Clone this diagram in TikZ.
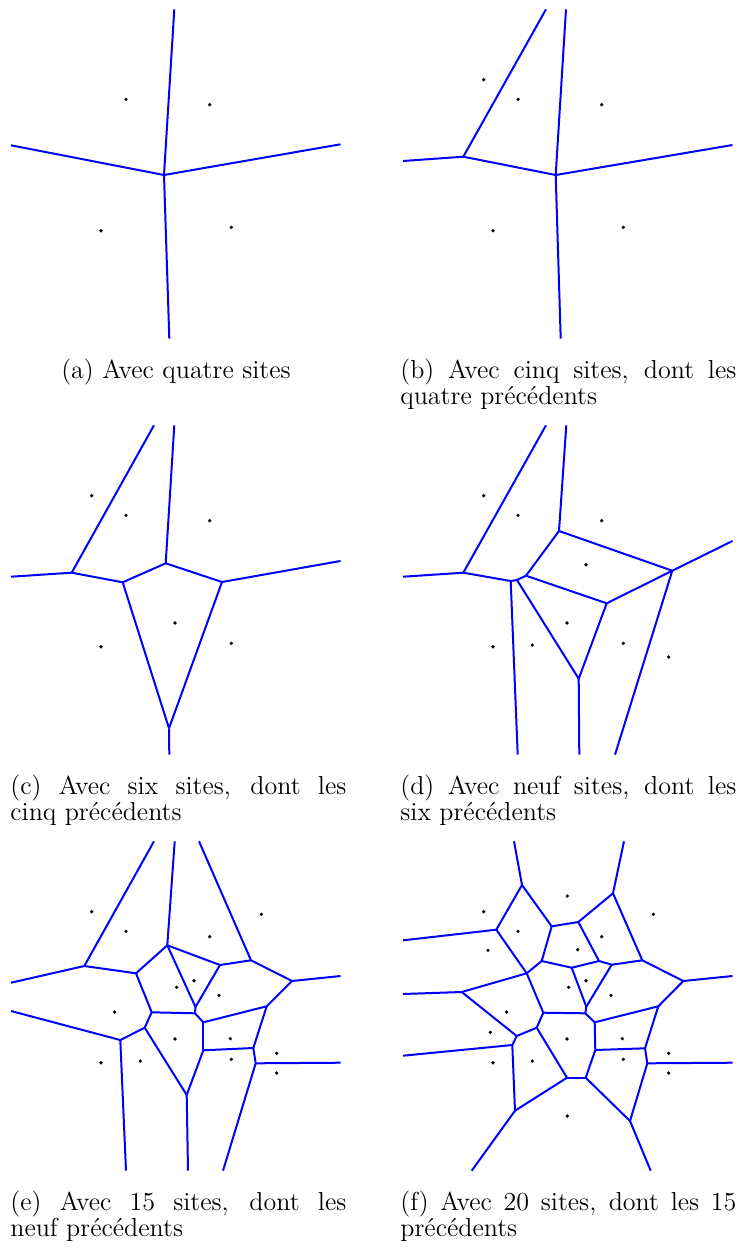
\documentclass[tikz,border=0pt]{standalone}
\usepackage{tikz}
\tikzset{
  cellule/.style={draw=blue, line width=1pt, line join=round},
  germe/.style={fill=black},
  legende/.style={inner sep=0pt, text width=168pt, align=justify, anchor=base west,
    font=\fontsize{13}{12}\selectfont},
}
\newcommand\germes[1]{%
  \foreach \n/\x/\y in {1/175.3/64, 2/91.7/79.7, 3/261.3/82.3, 4/126/99.3, 5/209.7/104.7,
      6/96/118.3, 7/185.7/117.7, 8/194/148.7, 9/176.7/155.3, 10/219/163.3,
      11/114.7/180, 12/98.3/200.3, 13/175/207, 14/230.3/206.7, 15/101/230.7,
      16/140.3/229, 17/231.3/227.3, 18/276.7/221.3, 19/276.7/241, 20/175.3/284}
    \coordinate (s\n) at (\x,\y);
  \foreach \i in {#1} \fill[germe] (s\i) circle[radius=0.9pt];}

\begin{document}
\begin{tikzpicture}[x=0.5pt, y=-0.5pt]
  \useasboundingbox (0,0) rectangle (737,1248);

  \begin{scope}
    \coordinate (a0) at (164,175);
    \coordinate (aN) at (174.3,9.3);
    \coordinate (aW) at (11,145.3);
    \coordinate (aE) at (340.5,144.3);
    \coordinate (aS) at (169.3,338.7);
    \foreach \u/\v in {a0/aN, a0/aS, a0/aW, a0/aE}
      \draw[cellule] (\u) -- (\v);
    \germes{4,5,15,17}
  \end{scope}

  \begin{scope}[shift={(392,0)}]
    \coordinate (b1) at (163.7,175);
    \coordinate (b2) at (71.3,156.7);
    \coordinate (bN1) at (154,9.3);
    \coordinate (bN2) at (174,9.3);
    \coordinate (bW) at (11,161);
    \coordinate (bE) at (340.5,145);
    \coordinate (bS) at (168.7,338.7);
    \foreach \u/\v in {b2/bN1, b2/bW, b2/b1, b1/bN2, b1/bE, b1/bS}
      \draw[cellule] (\u) -- (\v);
    \germes{2,4,5,15,17}
  \end{scope}

  \begin{scope}[shift={(0,416)}]
    \coordinate (c1) at (71.7,156.7);
    \coordinate (c2) at (122.7,166.3);
    \coordinate (c3) at (165.7,147.3);
    \coordinate (c4) at (222,166);
    \coordinate (c5) at (169,312.3);
    \coordinate (cW) at (11,160.7);
    \coordinate (cN1) at (154,9.3);
    \coordinate (cN2) at (174.3,9.3);
    \coordinate (cE) at (340.5,145);
    \coordinate (cS) at (169.3,338.7);
    \foreach \u/\v in {c1/cW, c1/cN1, c1/c2, c2/c3, c3/cN2, c3/c4, c4/cE,
        c2/c5, c4/c5, c5/cS}
      \draw[cellule] (\u) -- (\v);
    \germes{2,4,5,13,15,17}
  \end{scope}

  \begin{scope}[shift={(392,416)}]
    \coordinate (d1) at (71.3,156.7);
    \coordinate (d2) at (118.7,165);
    \coordinate (d3) at (125,164);
    \coordinate (d4) at (134,159.7);
    \coordinate (d5) at (167,115);
    \coordinate (d6) at (280.3,154.7);
    \coordinate (d7) at (214.7,187.3);
    \coordinate (d8) at (186.7,262.7);
    \coordinate (dW) at (11,160.7);
    \coordinate (dN1) at (154,9.3);
    \coordinate (dN2) at (174.3,9.3);
    \coordinate (dE) at (340.5,125);
    \coordinate (dS1) at (125.7,338.7);
    \coordinate (dS2) at (187.3,338.7);
    \coordinate (dS3) at (223,338.7);
    \foreach \u/\v in {d1/dW, d1/dN1, d1/d2, d2/d3, d3/d4, d2/dS1, d4/d5, d5/dN2,
        d5/d6, d6/dE, d4/d7, d7/d6, d6/dS3, d3/d8, d7/d8, d8/dS2}
      \draw[cellule] (\u) -- (\v);
    \germes{2,4,5,8,13,15,16,17,19}
  \end{scope}

  \begin{scope}[shift={(0,832)}]
    \coordinate (e1) at (84.3,134);
    \coordinate (e2) at (136,141.3);
    \coordinate (e3) at (167.3,113.3);
    \coordinate (e4) at (220,133);
    \coordinate (e5) at (251,128.3);
    \coordinate (e6) at (292,149);
    \coordinate (e7) at (266.7,174.3);
    \coordinate (e8) at (203.3,190.3);
    \coordinate (e9) at (195,181.3);
    \coordinate (e10) at (195.5,175);
    \coordinate (e11) at (151.7,180.3);
    \coordinate (e12) at (144.7,195.7);
    \coordinate (e13) at (120.3,208);
    \coordinate (e14) at (203.3,218.3);
    \coordinate (e15) at (253.3,216);
    \coordinate (e16) at (255.7,231.3);
    \coordinate (e17) at (186.7,263);
    \coordinate (eN1) at (154,9.3);
    \coordinate (eN2) at (174.7,9.3);
    \coordinate (eN3) at (199,9.3);
    \coordinate (eW1) at (11,150.7);
    \coordinate (eW2) at (11,179);
    \coordinate (eE1) at (340.5,144);
    \coordinate (eE2) at (340.5,230.7);
    \coordinate (eS1) at (126,338.7);
    \coordinate (eS2) at (188,338.7);
    \coordinate (eS3) at (223,338.7);
    \foreach \u/\v in {e1/eN1, e1/eW1, e1/e2, e2/e3, e3/eN2, e3/e4, e3/e10, e4/e5,
        e4/e10, e5/eN3, e5/e6, e6/eE1, e6/e7, e7/e8, e8/e9, e9/e10, e9/e11, e2/e11,
        e11/e12, e12/e13, e13/eW2, e13/eS1, e12/e17, e17/eS2, e17/e14, e14/e8,
        e14/e15, e15/e7, e15/e16, e16/eE2, e16/eS3}
      \draw[cellule] (\u) -- (\v);
    \germes{2,3,4,5,8,9,10,11,13,14,15,16,17,18,19}
  \end{scope}

  \begin{scope}[shift={(392,832)}]
    \coordinate (f1) at (130,53);
    \coordinate (f2) at (221,61.3);
    \coordinate (f3) at (104.3,97.7);
    \coordinate (f4) at (159.7,94.3);
    \coordinate (f5) at (186.3,90);
    \coordinate (f6) at (149.7,129);
    \coordinate (f7) at (179.7,135.7);
    \coordinate (f8) at (207,129);
    \coordinate (f9) at (219.7,132.7);
    \coordinate (f10) at (250.3,128.3);
    \coordinate (f11) at (291.3,149);
    \coordinate (f12) at (134.7,141.3);
    \coordinate (f13) at (69.7,160);
    \coordinate (f14) at (266.3,174.3);
    \coordinate (f15) at (194.3,174.7);
    \coordinate (f16) at (193.3,181.3);
    \coordinate (f17) at (151.3,180.7);
    \coordinate (f18) at (202.7,190.3);
    \coordinate (f19) at (144.7,195.7);
    \coordinate (f20) at (124.7,204);
    \coordinate (f21) at (120.3,213);
    \coordinate (f22) at (203.3,218);
    \coordinate (f23) at (253,216.3);
    \coordinate (f24) at (255.3,231.3);
    \coordinate (f25) at (175,245.7);
    \coordinate (f26) at (193.7,245.7);
    \coordinate (f27) at (123,278.7);
    \coordinate (f28) at (238,289);
    \coordinate (fN1) at (122,9.3);
    \coordinate (fN2) at (232,9.3);
    \coordinate (fW1) at (11,108.3);
    \coordinate (fW2) at (11,162);
    \coordinate (fW3) at (11,223.7);
    \coordinate (fE1) at (340.5,144);
    \coordinate (fE2) at (340.5,230.7);
    \coordinate (fS1) at (79.7,338.7);
    \coordinate (fS2) at (258.7,338.7);
    \foreach \u/\v in {f1/fN1, f1/f3, f1/f4, f3/fW1, f3/f12, f4/f5, f4/f6, f5/f2,
        f5/f8, f2/fN2, f2/f10, f6/f7, f7/f8, f8/f9, f9/f10, f6/f12, f12/f13,
        f13/fW2, f13/f20, f12/f17, f7/f15, f9/f15, f15/f16, f17/f16, f16/f18,
        f10/f11, f11/fE1, f11/f14, f14/f18, f18/f22, f22/f23, f23/f14, f23/f24,
        f24/fE2, f24/f28, f28/fS2, f28/f26, f26/f22, f26/f25, f25/f19, f25/f27,
        f27/fS1, f27/f21, f21/f20, f21/fW3, f20/f19, f19/f17}
      \draw[cellule] (\u) -- (\v);
    \germes{1,2,3,4,5,6,7,8,9,10,11,12,13,14,15,16,17,18,19,20}
  \end{scope}

  \node (legA) [inner sep=0pt, anchor=base, font=\fontsize{13}{12}\selectfont] at (176,378) {(a) Avec quatre sites};
  \node (legB) [legende] at (400,378) {(b) Avec cinq sites, dont les\linebreak quatre précédents};
  \node (legC) [legende] at (10,794) {(c) Avec six sites, dont les\linebreak cinq précédents};
  \node (legD) [legende] at (400,794) {(d) Avec neuf sites, dont les\linebreak six précédents};
  \node (legE) [legende] at (10,1210) {(e) Avec 15 sites, dont les\linebreak neuf précédents};
  \node (legF) [legende] at (400,1210) {(f) Avec 20 sites, dont les 15\linebreak précédents};
\end{tikzpicture}
\end{document}
